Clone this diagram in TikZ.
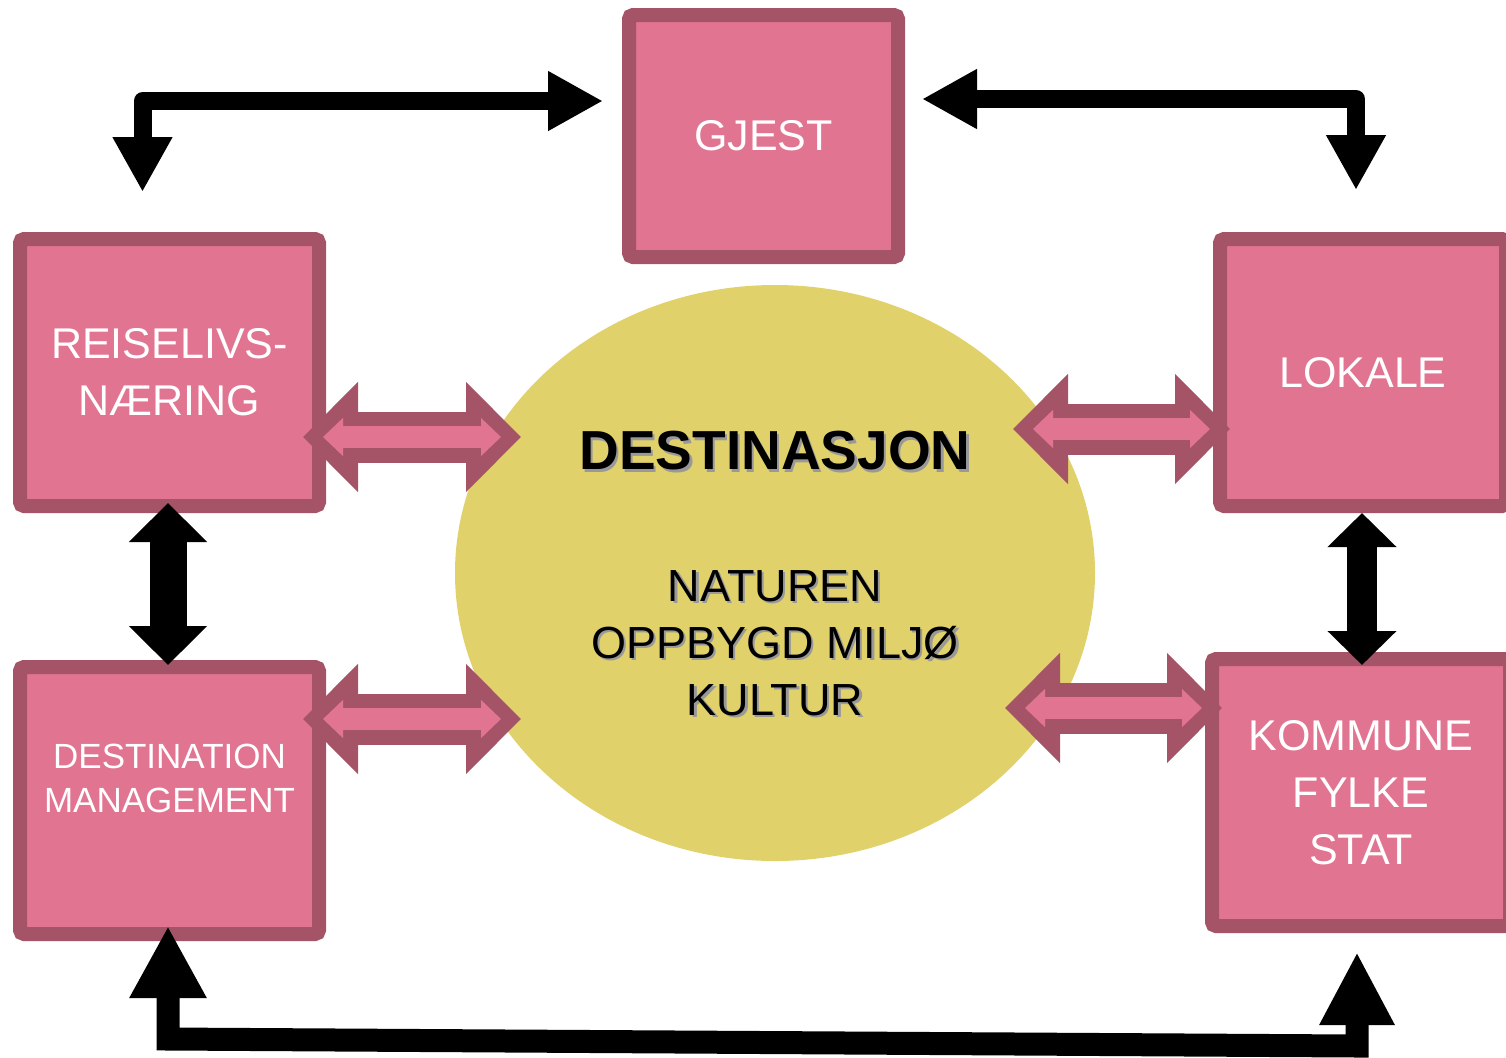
\documentclass[tikz,border=0pt]{standalone}
\usepackage{fontspec}
\setmainfont{Liberation Sans}
\usetikzlibrary{arrows.meta,shapes.geometric}
\definecolor{rosefill}{HTML}{E17491}
\definecolor{roseline}{HTML}{A55468}
\definecolor{sand}{HTML}{E0D16A}
\newcommand{\shadowtext}[1]{\makebox[0pt][l]{\kern1.2pt\raisebox{-1.2pt}{\textcolor{black!40}{#1}}}#1}
\newcommand{\pinklink}[2]{%
  \draw[linkout] #1 -- #2;
  \draw[linkin] #1 -- #2;}

\begin{document}
\begin{tikzpicture}[x=0.5pt,y=-0.5pt,
  box/.style={draw=roseline, fill=rosefill, line width=7pt, rounded corners=2pt,
    text=white, align=center, inner sep=0pt, font=\fontsize{21.5}{28.5}\selectfont},
  blk/.style={draw=black, line width=9pt, line join=round,
    {Triangle[length=27.5pt,width=28pt]}-{Triangle[length=27.5pt,width=28pt]}},
  linkout/.style={draw=roseline, line width=25.5pt,
    {Triangle[length=27.5pt,width=53.5pt]}-{Triangle[length=27.5pt,width=53.5pt]}},
  linkin/.style={draw=rosefill, line width=11pt, shorten <=10pt, shorten >=10pt,
    {Triangle[length=10pt,width=18.5pt]}-{Triangle[length=10pt,width=18.5pt]}}]
\useasboundingbox (0,0) rectangle (1506,1057);
\clip (0,0) rectangle (1506,1057);

\node[ellipse, fill=sand, minimum width=320pt, minimum height=288pt, inner sep=0pt] (ell) at (775,573) {};
\node[font=\bfseries\fontsize{27.5}{33}\selectfont] (ttl) at (775,452) {\shadowtext{DESTINASJON}};
\node[align=center, font=\fontsize{22.5}{28.5}\selectfont] (items) at (775,644)
  {\shadowtext{NATUREN}\\\shadowtext{OPPBYGD MILJØ}\\\shadowtext{KULTUR}};

\node[box, minimum width=134.5pt, minimum height=121pt] (gjest) at (763.5,136) {GJEST};
\node[box, minimum width=149.5pt, minimum height=133.5pt] (reise) at (169.5,372.5) {REISELIVS-\\NÆRING};
\node[box, minimum width=149.5pt, minimum height=133.5pt,
  label={[text=white, align=center, yshift=11pt, font=\fontsize{17.5}{22.25}\selectfont]center:DESTINATION\\MANAGEMENT}]
  (dm) at (169.5,800.5) {};
\node[box, minimum width=143pt, minimum height=133.5pt] (lokale) at (1363,372.5) {LOKALE};
\node[box, minimum width=149pt, minimum height=133.5pt] (kommune) at (1361,792.5) {KOMMUNE\\FYLKE\\STAT};

\draw[blk] ([shift={(-19,-35)}]gjest.west) -| ([shift={(-27,-40)}]reise.north);
\draw[blk] ([shift={(17,-37)}]gjest.east) -| ([shift={(-7,-42)}]lokale.north);
\draw[line width=11.5pt, {Triangle[length=36pt,width=36pt]}-{Triangle[length=36.5pt,width=35pt]}]
  ([shift={(-1.5,-15)}]dm.south) -- ++(0,113) -- ([shift={(-4,113)}]kommune.south) -- ([shift={(-4,19)}]kommune.south);
\draw[line width=18.5pt, {Triangle[length=19.5pt,width=38pt]}-{Triangle[length=19.5pt,width=38pt]}]
  ([shift={(-1.5,-10)}]reise.south) -- ([shift={(-1.5,5)}]dm.north);
\draw[line width=15pt, {Triangle[length=17pt,width=33.5pt]}-{Triangle[length=17pt,width=33.5pt]}]
  ([shift={(-1,0)}]lokale.south) -- ([shift={(1,13)}]kommune.north);

\pinklink{([shift={(-23,64.5)}]reise.east)}{([shift={(-254,-136)}]ell.center)}
\pinklink{([shift={(-23,-81.5)}]dm.east)}{([shift={(-254,146)}]ell.center)}
\pinklink{([shift={(238,-144)}]ell.center)}{([shift={(17,56.5)}]lokale.west)}
\pinklink{([shift={(230,135)}]ell.center)}{([shift={(17,-84.5)}]kommune.west)}
\end{tikzpicture}
\end{document}
